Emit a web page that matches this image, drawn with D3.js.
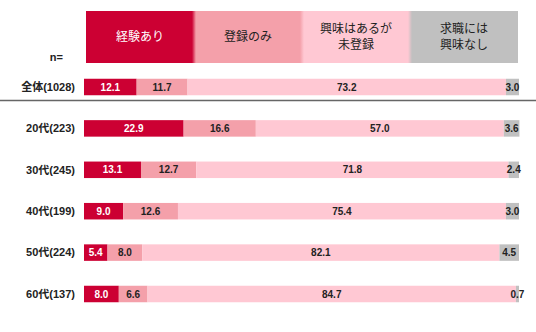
<!DOCTYPE html>
<html>
<head>
<meta charset="utf-8">
<script src="https://cdn.jsdelivr.net/npm/d3@7"></script>
<style>
  html, body { margin: 0; padding: 0; background: #fff; }
  svg { display: block; font-family: "Liberation Sans", Arial, "Noto Sans CJK JP", sans-serif; }
</style>
</head>
<body>
<svg id="chart" width="536" height="332"></svg>
<script>
// Response categories (legend header)
const categories = ["経験あり", "登録のみ", "興味はあるが\n未登録", "求職には\n興味なし"];
const colors = ["#cc0033", "#f4a0aa", "#ffc8d3", "#c0c0c0"];
const textColors = ["#ffffff", "#222222", "#222222", "#222222"];

// Row labels (group and sample size)
const groups = ["全体(1028)", "20代(223)", "30代(245)", "40代(199)", "50代(224)", "60代(137)"];

// Share (%) for each category, by row
const experienced = [12.1, 22.9, 13.1, 9.0, 5.4, 8.0];
const registeredOnly = [11.7, 16.6, 12.7, 12.6, 8.0, 6.6];
const interestedNotRegistered = [73.2, 57.0, 71.8, 75.4, 82.1, 84.7];
const notInterested = [3.0, 3.6, 2.4, 3.0, 4.5, 0.7];

const series = [experienced, registeredOnly, interestedNotRegistered, notInterested];

const rows = groups.map((g, i) => {
  const r = { group: g };
  categories.forEach((c, k) => { r[c] = series[k][i]; });
  return r;
});

const svg = d3.select("#chart");

const x = d3.scaleLinear().domain([0, 100]).range([84, 519]);
const y = d3.scalePoint().domain(groups).range([87, 294]);
const barH = 16.5;

const stack = d3.stack().keys(categories)(rows);

// Header boxes
const hx = d3.scaleBand().domain(categories).range([86, 518]).padding(0);
const defs = svg.append("defs");
categories.forEach((c, k) => {
  if (k === categories.length - 1) return;
  const grad = defs.append("linearGradient").attr("id", "edge" + k)
    .attr("x1", 0).attr("x2", 1).attr("y1", 0).attr("y2", 0);
  grad.append("stop").attr("offset", "0%").attr("stop-color", colors[k]);
  grad.append("stop").attr("offset", "100%").attr("stop-color", colors[k + 1]);
});
const header = svg.append("g").attr("class", "header");
header.selectAll("rect.box").data(categories).join("rect")
  .attr("class", "box")
  .attr("x", d => hx(d))
  .attr("y", 11)
  .attr("width", hx.bandwidth())
  .attr("height", 52)
  .attr("fill", (d, i) => colors[i]);
header.selectAll("rect.edge").data(categories.slice(0, -1)).join("rect")
  .attr("class", "edge")
  .attr("x", d => hx(d) + hx.bandwidth() - 2)
  .attr("y", 11)
  .attr("width", 4)
  .attr("height", 52)
  .attr("fill", (d, i) => `url(#edge${i})`);

// Header captions, one text element per line
const lineH = 15.5;
const captionLines = [];
categories.forEach((c, k) => {
  const lines = c.split("\n");
  lines.forEach((l, j) => {
    captionLines.push({ cat: c, k, text: l, yy: 37 - (lines.length - 1) * lineH / 2 + j * lineH });
  });
});
header.selectAll("text").data(captionLines).join("text")
  .attr("x", d => hx(d.cat) + hx.bandwidth() / 2)
  .attr("y", d => d.yy)
  .attr("dy", "0.35em")
  .attr("text-anchor", "middle")
  .attr("font-size", 12)
  .attr("font-family", "'Noto Sans CJK JP', sans-serif")
  .attr("fill", d => textColors[d.k])
  .text(d => d.text);

svg.append("text")
  .attr("x", 63).attr("y", 57).attr("dy", "0.35em")
  .attr("text-anchor", "end")
  .attr("font-size", 11).attr("font-weight", "bold").attr("fill", "#222")
  .text("n=");

// Separator below the overall row
svg.append("line")
  .attr("x1", 0).attr("x2", 536)
  .attr("y1", 100.5).attr("y2", 100.5)
  .attr("stroke", "#666").attr("stroke-width", 1.5);

// Row labels
svg.append("g").selectAll("text").data(groups).join("text")
  .attr("x", 75)
  .attr("y", d => y(d))
  .attr("dy", "0.35em")
  .attr("text-anchor", "end")
  .attr("font-size", 11)
  .attr("font-weight", "bold")
  .attr("fill", "#222")
  .text(d => d);

// Stacked bars
const layers = svg.append("g").selectAll("g").data(stack).join("g")
  .attr("fill", (d, i) => colors[i]);
layers.selectAll("rect").data(d => d).join("rect")
  .attr("x", d => x(d[0]))
  .attr("y", d => y(d.data.group) - barH / 2)
  .attr("width", d => x(d[1]) - x(d[0]))
  .attr("height", barH);

// Value labels
const labels = svg.append("g").selectAll("g").data(stack).join("g")
  .attr("fill", (d, i) => textColors[i]);
labels.selectAll("text").data(d => d.map(v => ({ v, key: d.key }))).join("text")
  .attr("x", d => (x(d.v[0]) + x(d.v[1])) / 2)
  .attr("y", d => y(d.v.data.group))
  .attr("dy", "0.35em")
  .attr("text-anchor", "middle")
  .attr("font-size", 10)
  .attr("font-weight", "bold")
  .text(d => d.v.data[d.key].toFixed(1));
</script>
</body>
</html>
